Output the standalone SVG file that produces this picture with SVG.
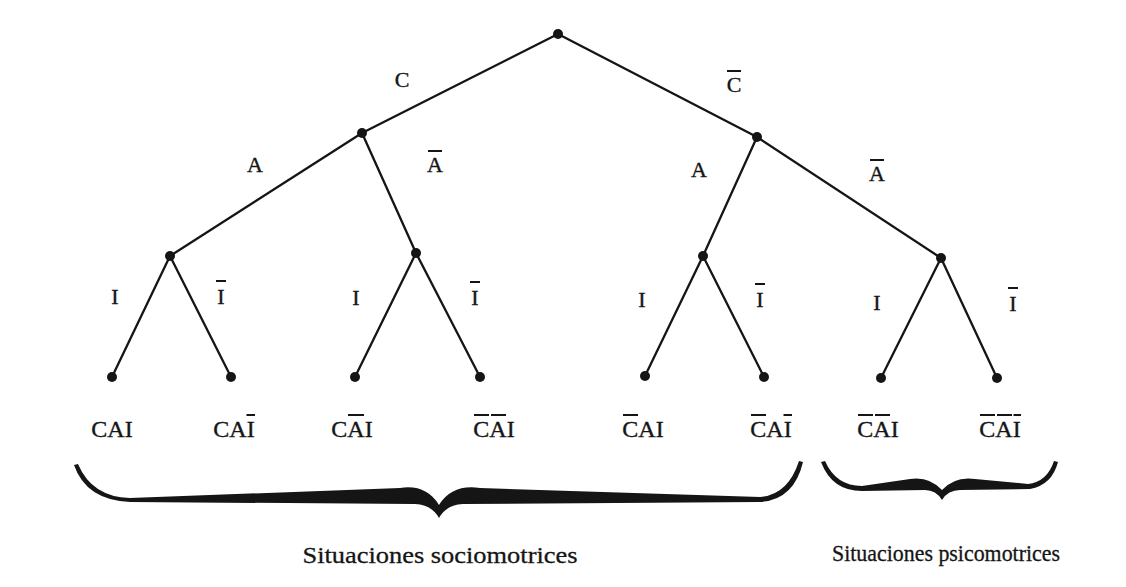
<svg xmlns="http://www.w3.org/2000/svg" width="1126" height="587" viewBox="0 0 1126 587">
  <style>
    .edge { stroke: #151515; stroke-width: 2.3; fill: none; stroke-linecap: round; }
    .dot { fill: #151515; }
    .lbl { font-family: "Liberation Serif", "Times New Roman", serif; font-size: 22px; fill: #151515; stroke: #151515; stroke-width: 0.35; text-anchor: middle; }
    .leaf { font-family: "Liberation Serif", "Times New Roman", serif; font-size: 24px; fill: #151515; stroke: #151515; stroke-width: 0.35; text-anchor: middle; }
    .cap { font-family: "Liberation Serif", "Times New Roman", serif; font-size: 24px; fill: #151515; stroke: #151515; stroke-width: 0.3; text-anchor: middle; }
    .bar { stroke: #151515; stroke-width: 2; fill: none; }
    .brace { fill: #151515; }
  </style>
  <rect width="1126" height="587" fill="#ffffff"/>

  <g id="connectors">
    <line class="edge" x1="558" y1="34" x2="362" y2="133"/>
    <line class="edge" x1="558" y1="34" x2="757" y2="137"/>
    <line class="edge" x1="362" y1="133" x2="170" y2="256"/>
    <line class="edge" x1="362" y1="133" x2="416" y2="253"/>
    <line class="edge" x1="757" y1="137" x2="703" y2="256"/>
    <line class="edge" x1="757" y1="137" x2="941" y2="258"/>
    <line class="edge" x1="170" y1="256" x2="112" y2="377"/>
    <line class="edge" x1="170" y1="256" x2="231" y2="377"/>
    <line class="edge" x1="416" y1="253" x2="355" y2="377"/>
    <line class="edge" x1="416" y1="253" x2="480" y2="377"/>
    <line class="edge" x1="703" y1="256" x2="645" y2="376"/>
    <line class="edge" x1="703" y1="256" x2="764" y2="377"/>
    <line class="edge" x1="941" y1="258" x2="881" y2="378"/>
    <line class="edge" x1="941" y1="258" x2="997" y2="378"/>
  </g>

  <g id="edge-labels">
    <text class="lbl" x="402" y="87">C</text>
    <text class="lbl" x="734" y="92">C</text>
    <line class="bar" x1="727" y1="71" x2="741" y2="71"/>
    <text class="lbl" x="255" y="172">A</text>
    <text class="lbl" x="435" y="172">A</text>
    <line class="bar" x1="428" y1="151" x2="442" y2="151"/>
    <text class="lbl" x="699" y="177">A</text>
    <text class="lbl" x="877" y="181">A</text>
    <line class="bar" x1="870" y1="160" x2="884" y2="160"/>
    <text class="lbl" x="115" y="304">I</text>
    <text class="lbl" x="221" y="304">I</text>
    <line class="bar" x1="216" y1="281" x2="226" y2="281"/>
    <text class="lbl" x="356" y="305">I</text>
    <text class="lbl" x="475" y="305">I</text>
    <line class="bar" x1="470" y1="282" x2="480" y2="282"/>
    <text class="lbl" x="642" y="307">I</text>
    <text class="lbl" x="760" y="307">I</text>
    <line class="bar" x1="755" y1="284" x2="765" y2="284"/>
    <text class="lbl" x="877" y="310">I</text>
    <text class="lbl" x="1013" y="311">I</text>
    <line class="bar" x1="1008" y1="288" x2="1018" y2="288"/>
  </g>

  <g id="root"><circle class="dot" cx="558" cy="34" r="5"/></g>
  <g id="n-C"><circle class="dot" cx="362" cy="133" r="5"/></g>
  <g id="n-notC"><circle class="dot" cx="757" cy="137" r="5"/></g>
  <g id="n-CA"><circle class="dot" cx="170" cy="256" r="5"/></g>
  <g id="n-CnotA"><circle class="dot" cx="416" cy="253" r="5"/></g>
  <g id="n-notCA"><circle class="dot" cx="703" cy="256" r="5"/></g>
  <g id="n-notCnotA"><circle class="dot" cx="941" cy="258" r="5"/></g>

  <g id="leaf1"><circle class="dot" cx="112" cy="377" r="5"/>
    <text class="leaf" x="112" y="437">CAI</text></g>
  <g id="leaf2"><circle class="dot" cx="231" cy="377" r="5"/>
    <text class="leaf" x="234" y="437">CAI</text>
    <line class="bar" x1="246.5" y1="415" x2="255" y2="415"/></g>
  <g id="leaf3"><circle class="dot" cx="355" cy="377" r="5"/>
    <text class="leaf" x="352" y="437">CAI</text>
    <line class="bar" x1="348" y1="415" x2="364" y2="415"/></g>
  <g id="leaf4"><circle class="dot" cx="480" cy="377" r="5"/>
    <text class="leaf" x="494" y="437">CAI</text>
    <line class="bar" x1="474" y1="415" x2="489" y2="415"/>
    <line class="bar" x1="491" y1="415" x2="506" y2="415"/></g>
  <g id="leaf5"><circle class="dot" cx="645" cy="376" r="5"/>
    <text class="leaf" x="643" y="437">CAI</text>
    <line class="bar" x1="623" y1="415" x2="638" y2="415"/></g>
  <g id="leaf6"><circle class="dot" cx="764" cy="377" r="5"/>
    <text class="leaf" x="771" y="437">CAI</text>
    <line class="bar" x1="751" y1="415" x2="766" y2="415"/>
    <line class="bar" x1="783.5" y1="415" x2="792" y2="415"/></g>
  <g id="leaf7"><circle class="dot" cx="881" cy="378" r="5"/>
    <text class="leaf" x="878" y="437">CAI</text>
    <line class="bar" x1="858" y1="415" x2="873" y2="415"/>
    <line class="bar" x1="875" y1="415" x2="890" y2="415"/></g>
  <g id="leaf8"><circle class="dot" cx="997" cy="378" r="5"/>
    <text class="leaf" x="1000" y="437">CAI</text>
    <line class="bar" x1="980" y1="415" x2="995" y2="415"/>
    <line class="bar" x1="997" y1="415" x2="1012" y2="415"/>
    <line class="bar" x1="1013.5" y1="415" x2="1021" y2="415"/></g>

  <g id="brace-socio">
    <path class="brace" d="M 74,465 Q 86,500 130,502 L 415,504 Q 432,505 439,518 Q 446,505 463,504 L 760,502 Q 794,500 803,462 L 799,461 Q 788,495 760,497 L 480,488 Q 452,484 439,505 Q 426,484 400,488 L 130,498 Q 92,497 78,464 Z"/>
    <text class="cap" x="440" y="563" textLength="275" lengthAdjust="spacingAndGlyphs">Situaciones sociomotrices</text>
  </g>
  <g id="brace-psico">
    <path class="brace" d="M 821,462 Q 832,491 862,491 L 925,490 Q 936,490 942,500 Q 948,490 960,490 L 1030,489 Q 1052,485 1058,462 L 1054,461 Q 1047,482 1028,484 L 975,479 Q 955,476 942,490 Q 929,476 910,479 L 862,486 Q 836,486 825,461 Z"/>
    <text class="cap" x="946" y="561" style="font-size:23px" textLength="228" lengthAdjust="spacingAndGlyphs">Situaciones psicomotrices</text>
  </g>
</svg>
